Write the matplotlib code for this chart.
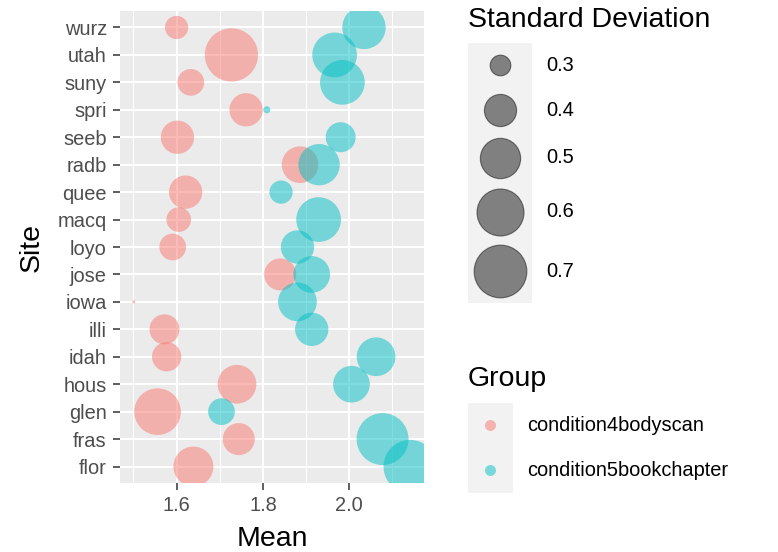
import numpy as np
import matplotlib
matplotlib.use("Agg")
import matplotlib.pyplot as plt
from matplotlib.patches import Rectangle

plt.rcParams['font.family'] = ['Liberation Sans', 'DejaVu Sans']

# data, bottom to top
sites = ["flor", "fras", "glen", "hous", "idah", "illi", "iowa", "jose", "loyo",
         "macq", "quee", "radb", "seeb", "spri", "suny", "utah", "wurz"]

body_mean = [1.639, 1.744, 1.556, 1.740, 1.577, 1.572, 1.501, 1.840, 1.591,
             1.605, 1.621, 1.886, 1.602, 1.761, 1.633, 1.727, 1.600]
body_sd = [0.495, 0.398, 0.595, 0.478, 0.370, 0.377, 0.242, 0.398, 0.346,
           0.329, 0.412, 0.452, 0.412, 0.412, 0.346, 0.710, 0.318]

book_mean = [2.141, 2.077, 1.704, 2.005, 2.062, 1.913, 1.880, 1.913, 1.880,
             1.929, 1.842, 1.930, 1.980, 1.809, 1.984, 1.966, 2.034]
book_sd = [0.712, 0.686, 0.346, 0.452, 0.478, 0.412, 0.478, 0.452, 0.412,
           0.564, 0.318, 0.514, 0.377, 0.245, 0.564, 0.564, 0.543]

groups = ["condition4bodyscan", "condition5bookchapter"]
group_colors = ["#F8766D", "#00BFC4"]
sd_breaks = [0.3, 0.4, 0.5, 0.6, 0.7]

W, H, DPI = 778, 552, 100
D_MIN, D_MAX = 3.0, 53.4   # marker diameter range in px (area scale)
TITLE_FS, TEXT_FS = 20.5, 14.4

all_sd = np.array(body_sd + book_sd)
vmin, vmax = all_sd.min(), all_sd.max()


def diam_px(v):
    v = np.asarray(v, dtype=float)
    return D_MIN + (D_MAX - D_MIN) * np.sqrt(np.clip((v - vmin) / (vmax - vmin), 0, None))


def area_pt(v):
    return (diam_px(v) * 72.0 / DPI) ** 2


fig = plt.figure(figsize=(W / DPI, H / DPI), dpi=DPI)
ax = fig.add_axes([120 / W, 1 - 483 / H, 304 / W, 472 / H])
ax.set_facecolor("#EBEBEB")

y = np.arange(len(sites))
for means, sds, col in [(body_mean, body_sd, group_colors[0]),
                        (book_mean, book_sd, group_colors[1])]:
    ax.scatter(means, y, s=area_pt(sds), color=col, alpha=0.5, linewidths=0, zorder=3)

all_mean = np.array(body_mean + book_mean)
span = all_mean.max() - all_mean.min()
ax.set_xlim(all_mean.min() - 0.05 * span, all_mean.max() + 0.05 * span)
ax.set_ylim(-0.6, len(sites) - 1 + 0.6)

ax.set_xticks([1.6, 1.8, 2.0])
ax.set_xticklabels(["1.6", "1.8", "2.0"])
ax.set_xticks([1.5, 1.7, 1.9, 2.1], minor=True)
ax.set_yticks(y)
ax.set_yticklabels(sites)

ax.grid(True, which="major", color="white", linewidth=1.5, zorder=0)
ax.grid(True, which="minor", axis="x", color="white", linewidth=0.7, zorder=0)
ax.set_axisbelow(True)
for s in ax.spines.values():
    s.set_visible(False)
ax.tick_params(which="major", length=5, width=1.1, color="#333333",
               labelcolor="#4D4D4D", labelsize=TEXT_FS, pad=4.5)
ax.tick_params(which="minor", length=0)

ax.set_xlabel("Mean", fontsize=TITLE_FS, labelpad=8)
ax.set_ylabel("Site", fontsize=TITLE_FS, labelpad=9)

# legends drawn in a pixel-space overlay
lax = fig.add_axes([440 / W, 0, 338 / W, 1])
lax.set_xlim(440, 778)
lax.set_ylim(H, 0)
lax.axis("off")

# size legend
lax.text(468, 26.7, "Standard Deviation", fontsize=TITLE_FS, va="baseline", ha="left")
key_h = [max(d + 10, 45) for d in diam_px(sd_breaks)]
key_w = max(diam_px(sd_breaks).max() + 12, 45)
top = 42.7
lax.add_patch(Rectangle((467.7, top), key_w, sum(key_h), color="#F2F2F2", lw=0))
cy = top
for b, h in zip(sd_breaks, key_h):
    c = cy + h / 2
    lax.scatter([467.7 + key_w / 2], [c], s=area_pt(b), color="black", alpha=0.47,
                linewidths=0.8, edgecolors=(0, 0, 0, 0.6))
    lax.text(546.7, c, f"{b:.1f}", fontsize=TEXT_FS, va="center", ha="left")
    cy += h

# colour legend
lax.text(468, 385.7, "Group", fontsize=TITLE_FS, va="baseline", ha="left")
gtop = 402.7
lax.add_patch(Rectangle((467.7, gtop), 45, 45 * len(groups), color="#F2F2F2", lw=0))
for i, (g, col) in enumerate(zip(groups, group_colors)):
    c = gtop + 45 * i + 22.5
    lax.scatter([490.2], [c], s=(11 * 0.72) ** 2, color=col, alpha=0.5, linewidths=0)
    lax.text(527.3, c, g, fontsize=TEXT_FS, va="center", ha="left")

fig.savefig("out.png", dpi=DPI)
